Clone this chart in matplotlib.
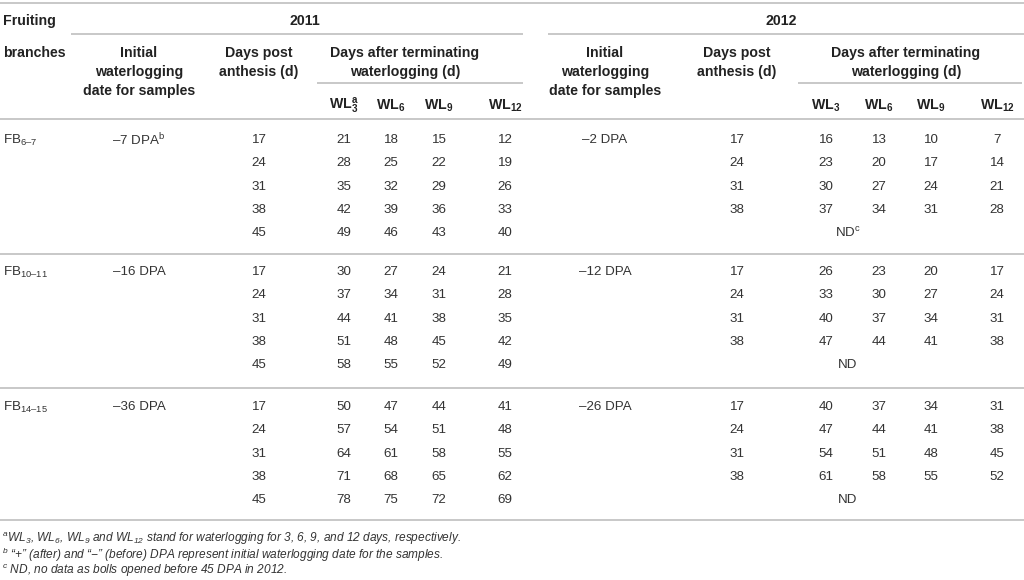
import matplotlib
matplotlib.use('Agg')
import matplotlib.pyplot as plt

plt.rcParams['font.family'] = ['Liberation Sans', 'DejaVu Sans']
plt.rcParams['mathtext.fontset'] = 'custom'
plt.rcParams['mathtext.rm'] = 'Liberation Sans'
plt.rcParams['mathtext.it'] = 'Liberation Sans:italic'
plt.rcParams['mathtext.bf'] = 'Liberation Sans:bold'
plt.rcParams['mathtext.default'] = 'regular'

# table data
branches = ['FB$_{6\u20137}$', 'FB$_{10\u201311}$', 'FB$_{14\u201315}$']
init_2011 = ['\u20137 DPA$^{b}$', '\u201316 DPA', '\u201336 DPA']
init_2012 = ['\u20132 DPA', '\u201312 DPA', '\u201326 DPA']
dpa_2011 = [17, 24, 31, 38, 45]
dpa_2012 = [17, 24, 31, 38]
wl_labels_2011 = ['WL$_3^a$', 'WL$_6$', 'WL$_9$', 'WL$_{12}$']
wl_labels_2012 = ['WL$_3$', 'WL$_6$', 'WL$_9$', 'WL$_{12}$']

# rows: WL3, WL6, WL9, WL12
fb67_2011 = [[21, 18, 15, 12], [28, 25, 22, 19], [35, 32, 29, 26], [42, 39, 36, 33], [49, 46, 43, 40]]
fb1011_2011 = [[30, 27, 24, 21], [37, 34, 31, 28], [44, 41, 38, 35], [51, 48, 45, 42], [58, 55, 52, 49]]
fb1415_2011 = [[50, 47, 44, 41], [57, 54, 51, 48], [64, 61, 58, 55], [71, 68, 65, 62], [78, 75, 72, 69]]
fb67_2012 = [[16, 13, 10, 7], [23, 20, 17, 14], [30, 27, 24, 21], [37, 34, 31, 28]]
fb1011_2012 = [[26, 23, 20, 17], [33, 30, 27, 24], [40, 37, 34, 31], [47, 44, 41, 38]]
fb1415_2012 = [[40, 37, 34, 31], [47, 44, 41, 38], [54, 51, 48, 45], [61, 58, 55, 52]]
nd_labels = ['ND$^{c}$', 'ND', 'ND']

footnotes = [
    '$^{a}$WL$_3$, WL$_6$, WL$_9$ and WL$_{12}$ stand for waterlogging for 3, 6, 9, and 12 days, respectively.',
    '$^{b}$ \u201c+\u201d (after) and \u201c\u2212\u201d (before) DPA represent initial waterlogging date for the samples.',
    '$^{c}$ ND, no data as bolls opened before 45 DPA in 2012.',
]

fig = plt.figure(figsize=(10.24, 5.8), dpi=100)
ax = fig.add_axes([0, 0, 1, 1])
ax.set_xlim(0, 1024)
ax.set_ylim(580, 0)
ax.axis('off')

line_c = '#c4c4c4'
txt_c = '#333333'
hdr_c = '#222222'
fs = 9.6
hfs = 10.2

# column centres
x_init = [139, 605]
x_dpa = [259, 737]
x_wl = [[344, 391, 439, 505], [826, 879, 931, 997]]
x_after = [405, 906]

# rules
ax.hlines(3, 0, 1024, color=line_c, lw=1.3)
ax.hlines(34, 71, 523, color=line_c, lw=1.3)
ax.hlines(34, 548, 1024, color=line_c, lw=1.3)
ax.hlines(83, 317, 523, color=line_c, lw=1.3)
ax.hlines(83, 798, 1022, color=line_c, lw=1.3)
ax.hlines(119, 0, 1024, color=line_c, lw=1.3)

# header
hk = dict(fontsize=hfs, fontweight='bold', color=hdr_c, va='center')
ax.text(3, 21, 'Fruiting', ha='left', **hk)
ax.text(3, 53, 'branches', ha='left', **hk)
ax.text(305, 21, '2011', ha='center', **hk)
ax.text(781, 21, '2012', ha='center', **hk)
for i in range(2):
    ax.text(x_init[i], 53, 'Initial', ha='center', **hk)
    ax.text(x_init[i], 72, 'waterlogging', ha='center', **hk)
    ax.text(x_init[i], 91, 'date for samples', ha='center', **hk)
    ax.text(x_dpa[i], 53, 'Days post', ha='center', **hk)
    ax.text(x_dpa[i], 72, 'anthesis (d)', ha='center', **hk)
    ax.text(x_after[i], 53, 'Days after terminating', ha='center', **hk)
    ax.text(x_after[i], 72, 'waterlogging (d)', ha='center', **hk)
    labels = wl_labels_2011 if i == 0 else wl_labels_2012
    for x, lab in zip(x_wl[i], labels):
        ax.text(x, 106, lab, ha='center', **hk)

# body
dk = dict(fontsize=fs, color=txt_c, va='center')
group_y = [140, 272, 407]
step = 23.3
sep_y = [254, 388, 520]
data_2011 = [fb67_2011, fb1011_2011, fb1415_2011]
data_2012 = [fb67_2012, fb1011_2012, fb1415_2012]
for g in range(3):
    y0 = group_y[g]
    ax.text(3, y0, branches[g], ha='left', **dk)
    ax.text(x_init[0], y0, init_2011[g], ha='center', **dk)
    ax.text(x_init[1], y0, init_2012[g], ha='center', **dk)
    for r, d in enumerate(dpa_2011):
        y = y0 + r * step
        ax.text(x_dpa[0], y, str(d), ha='center', **dk)
        for x, v in zip(x_wl[0], data_2011[g][r]):
            ax.text(x, y, str(v), ha='center', **dk)
    for r, d in enumerate(dpa_2012):
        y = y0 + r * step
        ax.text(x_dpa[1], y, str(d), ha='center', **dk)
        for x, v in zip(x_wl[1], data_2012[g][r]):
            ax.text(x, y, str(v), ha='center', **dk)
    ax.text(848, y0 + 4 * step, nd_labels[g], ha='center', **dk)
    ax.hlines(sep_y[g], 0, 1024, color=line_c, lw=1.3)

# footnotes
for i, note in enumerate(footnotes):
    ax.text(2, 539 + i * 16, note, ha='left', va='center', fontsize=8.6,
            style='italic', color=txt_c)

fig.savefig('out.png', dpi=100)
